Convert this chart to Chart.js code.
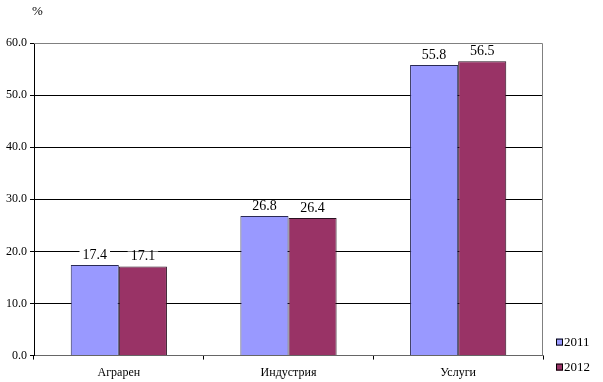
<!DOCTYPE html>
<html>
<head>
<meta charset="utf-8">
<script src="https://cdn.jsdelivr.net/npm/chart.js@4.4.0/dist/chart.umd.min.js"></script>
<style>
  html, body { margin: 0; padding: 0; background: #fff; }
  #wrap { width: 603px; height: 382px; }
</style>
</head>
<body>
<div id="wrap"><canvas id="chart" width="603" height="382"></canvas></div>
<script>
// data
const categories = ['Аграрен', 'Индустрия', 'Услуги'];
const values2011 = [17.4, 26.8, 55.8];
const values2012 = [17.1, 26.4, 56.5];
const seriesNames = ['2011', '2012'];
const yUnit = '%';

const FONT = 'Liberation Serif';

// value labels over the bars, on a white patch that cuts the gridline
const valueLabels = {
  id: 'valueLabels',
  afterDatasetsDraw(chart) {
    const ctx = chart.ctx;
    ctx.save();
    ctx.font = '14px "' + FONT + '"';
    ctx.textAlign = 'center';
    ctx.textBaseline = 'middle';
    chart.data.datasets.forEach((ds, i) => {
      chart.getDatasetMeta(i).data.forEach((bar, j) => {
        const txt = ds.data[j].toFixed(1);
        const w = ctx.measureText(txt).width;
        const y = bar.y - 10;
        ctx.fillStyle = '#fff';
        ctx.fillRect(bar.x - w / 2 - 3, y - 5, w + 6, 10);
        ctx.fillStyle = '#000';
        ctx.fillText(txt, bar.x, y);
      });
    });
    ctx.restore();
  }
};

// grey frame on top/right of the plot, unit sign, and the small legend
const frame = {
  id: 'frame',
  beforeDatasetsDraw(chart) {
    const a = chart.chartArea;
    const ctx = chart.ctx;
    ctx.save();
    ctx.strokeStyle = '#808080';
    ctx.lineWidth = 1;
    ctx.beginPath();
    ctx.moveTo(a.left, a.top + 0.5);
    ctx.lineTo(a.right - 0.5, a.top + 0.5);
    ctx.lineTo(a.right - 0.5, a.bottom);
    ctx.stroke();
    ctx.restore();
  },
  afterDraw(chart) {
    const a = chart.chartArea;
    const ctx = chart.ctx;
    ctx.save();
    ctx.font = '13px "' + FONT + '"';
    ctx.fillStyle = '#000';
    ctx.textAlign = 'left';
    ctx.textBaseline = 'middle';
    ctx.fillText(yUnit, a.left - 2, 12);

    // legend, stacked at the lower right
    chart.data.datasets.forEach((ds, i) => {
      const cy = a.bottom - 14 + i * 25;
      const bx = a.right + 13;
      ctx.fillStyle = ds.backgroundColor;
      ctx.fillRect(bx, cy - 3, 7, 7);
      ctx.strokeStyle = '#000';
      ctx.lineWidth = 1;
      ctx.strokeRect(bx + 0.5, cy - 2.5, 6, 6);
      ctx.fillStyle = '#000';
      ctx.fillText(ds.label, bx + 8, cy + 1);
    });
    ctx.restore();
  }
};

new Chart(document.getElementById('chart'), {
  type: 'bar',
  data: {
    labels: categories,
    datasets: [
      { label: seriesNames[0], data: values2011, backgroundColor: '#9999FF', borderColor: '#2a2a55', borderWidth: 1 },
      { label: seriesNames[1], data: values2012, backgroundColor: '#993366', borderColor: '#2a1020', borderWidth: 1 }
    ]
  },
  options: {
    responsive: false,
    animation: false,
    events: [],
    layout: { padding: { top: 43, right: 60, bottom: -4, left: 3 } },
    datasets: { bar: { categoryPercentage: 0.567, barPercentage: 1.0 } },
    plugins: {
      legend: { display: false },
      tooltip: { enabled: false }
    },
    scales: {
      x: {
        grid: { drawOnChartArea: false, drawTicks: true, tickLength: 4, color: '#000', offset: true },
        border: { color: '#666' },
        ticks: { font: { family: FONT, size: 12 }, color: '#000', padding: 6 }
      },
      y: {
        min: 0,
        max: 60,
        grid: {
          color: ctx => (ctx.tick && ctx.tick.value === 60 ? 'rgba(0,0,0,0)' : '#000'),
          tickColor: '#000',
          tickLength: 4
        },
        border: { color: '#000' },
        ticks: {
          stepSize: 10,
          font: { family: FONT, size: 12 },
          color: '#000',
          padding: 3,
          callback: v => v.toFixed(1)
        }
      }
    }
  },
  plugins: [frame, valueLabels]
});
</script>
</body>
</html>
